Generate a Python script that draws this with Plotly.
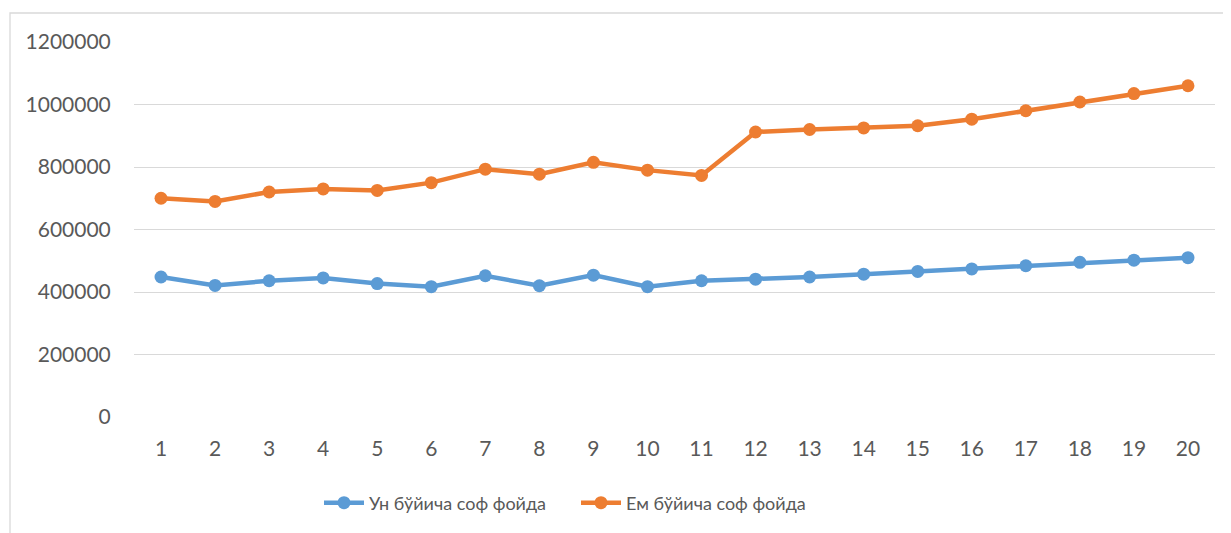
import plotly.graph_objects as go

periods = list(range(1, 21))
un_profit = [448000, 421000, 436000, 445000, 427000, 417000, 452000, 420000, 454000, 417000,
             436000, 441000, 448000, 457000, 466000, 474000, 484000, 495000, 502000, 510000]
em_profit = [700000, 690000, 720000, 730000, 725000, 750000, 793000, 777000, 815000, 790000,
             773000, 912000, 920000, 925000, 932000, 953000, 980000, 1008000, 1035000, 1060000]
series_names = ["Ун бўйича соф фойда", "Ем бўйича соф фойда"]
y_ticks = [0, 200000, 400000, 600000, 800000, 1000000, 1200000]

BLUE = "#5B9BD5"
ORANGE = "#ED7D31"
TXT = "#595959"
FONT = "Lato, 'Open Sans', 'Noto Sans', sans-serif"

fig = go.Figure()
for name, vals, col in [(series_names[0], un_profit, BLUE), (series_names[1], em_profit, ORANGE)]:
    fig.add_trace(go.Scatter(
        x=periods, y=vals, name=name, mode="lines+markers",
        line=dict(color=col, width=4.5),
        marker=dict(color=col, size=13),
    ))

# page has an 8px body margin; work in figure pixels
W, H = 1223, 525
L, R, T, B = 126, 16, 34, 116
pw, ph = W - L - R, H - T - B

def px_x(p):
    return (p - L) / pw

def px_y(p):
    return (H - B - p) / ph

fig.update_layout(
    width=W, height=H,
    margin=dict(l=L, r=R, t=T, b=B),
    paper_bgcolor="white", plot_bgcolor="white",
    font=dict(family=FONT, size=21, color=TXT),
    showlegend=True,
    legend=dict(orientation="h", x=px_x(311), xanchor="left", y=px_y(495), yanchor="middle",
                font=dict(size=18, color=TXT), itemwidth=40, bgcolor="rgba(0,0,0,0)",
                entrywidth=202, entrywidthmode="pixels"),
    xaxis=dict(range=[0.5, 20.5], tickmode="array", tickvals=periods,
               ticktext=[str(p) for p in periods], showgrid=False, zeroline=False,
               showline=False, ticks="outside", ticklen=13, tickcolor="rgba(0,0,0,0)",
               tickfont=dict(size=21, color=TXT)),
    yaxis=dict(range=[0, 1200000], tickmode="array", tickvals=y_ticks,
               ticktext=[str(v) for v in y_ticks], showgrid=True, gridcolor="#D9D9D9",
               gridwidth=1.3, zeroline=False, showline=False, ticks="outside", ticklen=18,
               tickcolor="rgba(0,0,0,0)", tickfont=dict(size=21, color=TXT)),
    shapes=[dict(type="rect", xref="paper", yref="paper",
                 x0=px_x(2), x1=px_x(1240), y0=px_y(545), y1=px_y(5),
                 line=dict(color="#D9D9D9", width=1.3), fillcolor="rgba(0,0,0,0)", layer="below")],
)

fig.write_html("out.html")
